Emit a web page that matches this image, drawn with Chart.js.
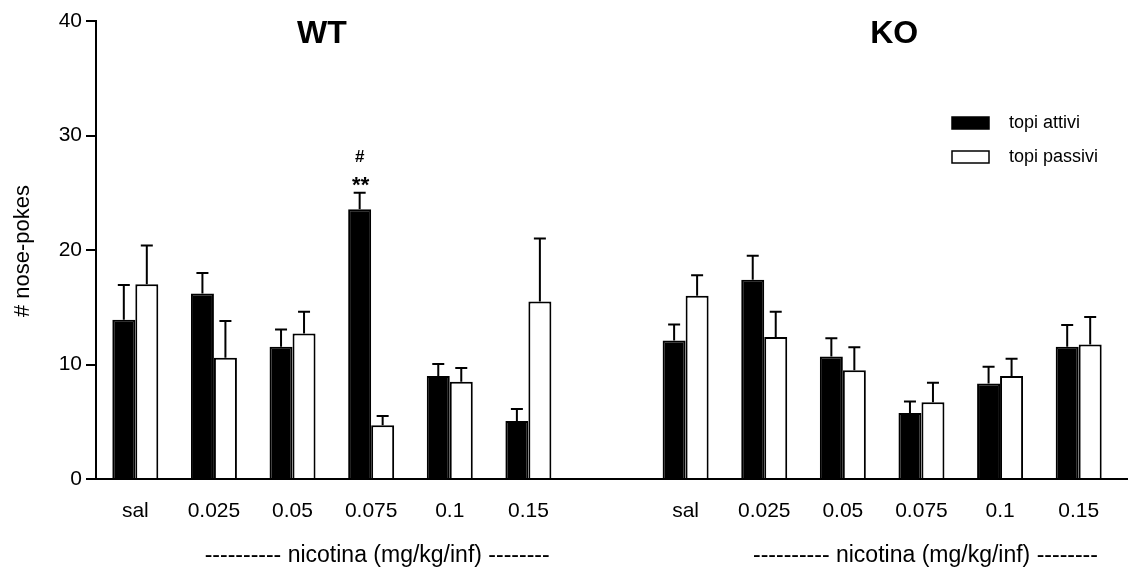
<!DOCTYPE html>
<html>
<head>
<meta charset="utf-8">
<script src="https://cdn.jsdelivr.net/npm/chart.js@4"></script>
<style>
  body { margin: 0; background: #fff; }
</style>
</head>
<body>
<canvas id="myChart" width="1129" height="575"></canvas>
<script>
// ======================================================================================================================
var labels = ['sal', '0.025', '0.05', '0.075', '0.1', '0.15', '', 'sal', '0.025', '0.05', '0.075', '0.1', '0.15']
var attivi = [13.9, 16.2, 11.55, 23.56, 9.0, 5.06, null, 12.1, 17.4, 10.7, 5.76, 8.35, 11.55]
var attiviErr = [3.05, 1.8, 1.5, 1.44, 1.05, 1.05, null, 1.4, 2.1, 1.6, 1.0, 1.45, 1.9]
var passivi = [17.0, 10.6, 12.7, 4.7, 8.5, 15.5, null, 16.0, 12.4, 9.5, 6.7, 9.0, 11.75]
var passiviErr = [3.4, 3.2, 1.9, 0.8, 1.2, 5.5, null, 1.8, 2.2, 2.0, 1.7, 1.5, 2.4]
var yTicks = [0, 10, 20, 30, 40]

var FONT = '"Liberation Sans", Arial, sans-serif'

// error bars, upward only
var errorBars = {
    id: 'errorBars',
    afterDatasetsDraw: function (chart) {
        var ctx = chart.ctx
        var y = chart.scales.y
        chart.data.datasets.forEach(function (ds, d) {
            var meta = chart.getDatasetMeta(d)
            meta.data.forEach(function (bar, i) {
                if (ds.data[i] == null) return
                var top = y.getPixelForValue(ds.data[i] + ds.errors[i])
                ctx.save()
                ctx.strokeStyle = '#000'
                ctx.lineWidth = 2
                ctx.beginPath()
                ctx.moveTo(bar.x, bar.y)
                ctx.lineTo(bar.x, top)
                ctx.moveTo(bar.x - 6, top)
                ctx.lineTo(bar.x + 6, top)
                ctx.stroke()
                ctx.restore()
            })
        })
    }
}

// texts, legend and the longer baseline
var extras = {
    id: 'extras',
    afterDraw: function (chart) {
        var ctx = chart.ctx
        var x = chart.scales.x
        var y = chart.scales.y
        var area = chart.chartArea
        ctx.save()

        ctx.strokeStyle = '#000'
        ctx.lineWidth = 2
        ctx.beginPath()
        ctx.moveTo(area.right - 2, area.bottom)
        ctx.lineTo(area.right + 10, area.bottom)
        ctx.stroke()

        ctx.fillStyle = '#000'
        ctx.textAlign = 'center'
        ctx.textBaseline = 'middle'
        ctx.font = 'bold 32px ' + FONT
        ctx.fillText('WT', x.getPixelForValue(2.5) - 10, 34)
        ctx.fillText('KO', x.getPixelForValue(9.5) + 12, 34)

        // significance marks over 0.075 attivi
        var bar = chart.getDatasetMeta(0).data[3]
        ctx.font = 'bold 17px ' + FONT
        ctx.fillText('#', bar.x, 157)
        ctx.font = 'bold 22px ' + FONT
        ctx.fillText('**', bar.x + 1, 186)

        ctx.font = '23px ' + FONT
        ctx.fillText('---------- nicotina (mg/kg/inf) --------', x.getPixelForValue(3) + 6, 556)
        ctx.fillText('---------- nicotina (mg/kg/inf) --------', x.getPixelForValue(10) + 4, 556)

        // y axis title
        ctx.save()
        ctx.translate(23, (y.top + y.bottom) / 2 + 1)
        ctx.rotate(-Math.PI / 2)
        ctx.font = '22px ' + FONT
        ctx.fillText('# nose-pokes', 0, 0)
        ctx.restore()

        // legend
        ctx.textAlign = 'left'
        ctx.font = '18px ' + FONT
        chart.data.datasets.forEach(function (ds, d) {
            var ly = 123 + d * 34
            ctx.fillStyle = ds.backgroundColor
            ctx.fillRect(952, ly - 6, 37, 12)
            ctx.strokeStyle = '#000'
            ctx.lineWidth = 1.5
            ctx.strokeRect(952, ly - 6, 37, 12)
            ctx.fillStyle = '#000'
            ctx.fillText(ds.label, 1009, ly)
        })
        ctx.restore()
    }
}

var ctx = document.getElementById('myChart').getContext('2d')
var chart = new Chart(ctx, {
    type: 'bar',
    data: {
        labels: labels,
        datasets: [{
            label: 'topi attivi',
            data: attivi,
            errors: attiviErr,
            backgroundColor: '#000',
            borderColor: '#000',
            borderWidth: 2,
            borderSkipped: 'start'
        },
        {
            label: 'topi passivi',
            data: passivi,
            errors: passiviErr,
            backgroundColor: '#fff',
            borderColor: '#000',
            borderWidth: 2,
            borderSkipped: 'start'
        }]
    },
    options: {
        responsive: false,
        animation: false,
        layout: { padding: { left: 0, top: 21, right: 11, bottom: 0 } },
        plugins: {
            legend: { display: false },
            tooltip: { enabled: false }
        },
        datasets: {
            bar: { categoryPercentage: 0.585, barPercentage: 1.0 }
        },
        scales: {
            x: {
                grid: { display: false },
                border: { color: '#000', width: 2 },
                ticks: { color: '#000', font: { family: FONT, size: 21 }, padding: 12, maxRotation: 0, autoSkip: false },
                afterFit: function (scale) { scale.height = 96 }
            },
            y: {
                min: 0,
                max: 40,
                afterBuildTicks: function (scale) {
                    scale.ticks = yTicks.map(function (v) { return { value: v } })
                },
                grid: { drawOnChartArea: false, drawTicks: true, tickLength: 10, color: '#000', lineWidth: 2 },
                border: { color: '#000', width: 2 },
                ticks: { color: '#000', font: { family: FONT, size: 21 }, padding: 4 },
                afterFit: function (scale) { scale.width = 96 }
            }
        }
    },
    plugins: [errorBars, extras]
})
</script>
</body>
</html>
